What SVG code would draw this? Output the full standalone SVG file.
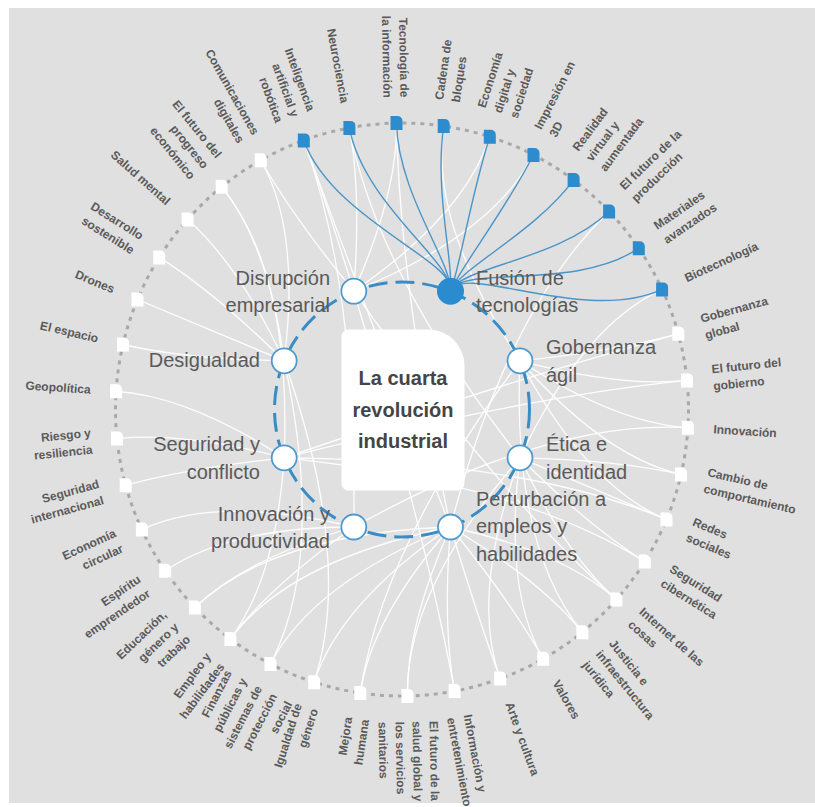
<svg xmlns="http://www.w3.org/2000/svg" xmlns:xlink="http://www.w3.org/1999/xlink" width="815" height="807" viewBox="0 0 815 807">
<style>
.wl{fill:none;stroke:#ffffff;stroke-width:1.3;opacity:0.95}
.bl{fill:none;stroke:#4b95c8;stroke-width:1.4}
.ring{fill:none;stroke:#a8a8a8;stroke-width:3;stroke-dasharray:4 5}
.iring{fill:none;stroke:#3a8cc4;stroke-width:3;stroke-dasharray:19 8}
.ol{font-family:"Liberation Sans",Arial,sans-serif;font-weight:bold;font-size:12px;fill:#5a5a5a}
.s{text-anchor:start}
.e{text-anchor:end}
.il{font-family:"Liberation Sans",Arial,sans-serif;font-size:20px;fill:#5a5a5a}
.ct{font-family:"Liberation Sans",Arial,sans-serif;font-weight:bold;font-size:20px;fill:#454545;text-anchor:middle}
.wsq{fill:#ffffff}
.bsq{fill:#2d8ccd}
.inode{fill:#ffffff;stroke:#4c9ace;stroke-width:1.8}
</style>
<defs>
<path id="sq" d="M-6,-7 h7 a5,5 0 0 1 5,5 v9 h-12 z"/>
</defs>
<rect x="0" y="0" width="815" height="807" fill="#ffffff"/>
<rect x="9" y="8" width="806" height="795" fill="#e0e0e0"/>

<circle class="ring" cx="402" cy="409.5" r="286.5"/>

<g id="connectors">
<g id="white-links">
<path class="wl" d="M396.5,123.1 Q397.8,192.5 353.8,291.2"/>
<path class="wl" d="M489.8,136.8 Q464.6,215.1 353.8,291.2"/>
<path class="wl" d="M533.5,155 Q492.1,235.1 353.8,291.2"/>
<path class="wl" d="M260.8,160.2 Q292.5,216.2 353.8,291.2"/>
<path class="wl" d="M303.8,140.4 Q325.6,200.1 353.8,291.2"/>
<path class="wl" d="M349.4,127.9 Q361.4,192.2 353.8,291.2"/>
<path class="wl" d="M616.4,599.5 Q495.1,492.1 353.8,291.2"/>
<path class="wl" d="M454.6,691.1 Q424.3,528.9 353.8,291.2"/>
<path class="wl" d="M443.7,126.1 Q429.3,223.7 520,360.8"/>
<path class="wl" d="M678.3,333.8 Q616.4,350.8 520,360.8"/>
<path class="wl" d="M687,380.4 Q620.1,387.2 520,360.8"/>
<path class="wl" d="M687.9,427.7 Q615.7,423.1 520,360.8"/>
<path class="wl" d="M681,474.5 Q604.3,456.6 520,360.8"/>
<path class="wl" d="M666.5,519.5 Q586.7,486.3 520,360.8"/>
<path class="wl" d="M582.3,632.2 Q512.2,545.6 520,360.8"/>
<path class="wl" d="M360.3,692.9 Q381.8,547.1 520,360.8"/>
<path class="wl" d="M662.1,289.4 Q582.1,326.3 520,457.8"/>
<path class="wl" d="M681,474.5 Q617.9,459.8 520,457.8"/>
<path class="wl" d="M666.5,519.5 Q607.8,495.1 520,457.8"/>
<path class="wl" d="M644.8,561.6 Q589.8,527.2 520,457.8"/>
<path class="wl" d="M616.4,599.5 Q565.1,554 520,457.8"/>
<path class="wl" d="M543.2,658.8 Q503.3,588.4 520,457.8"/>
<path class="wl" d="M500.2,678.6 Q469.8,595.3 520,457.8"/>
<path class="wl" d="M407.5,695.9 Q405.5,590.6 520,457.8"/>
<path class="wl" d="M349.4,127.9 Q376.7,274 520,457.8"/>
<path class="wl" d="M396.5,123.1 Q399.6,286.1 450.5,527"/>
<path class="wl" d="M609.1,211.5 Q507.1,309.1 450.5,527"/>
<path class="wl" d="M616.4,599.5 Q562.2,551.5 450.5,527"/>
<path class="wl" d="M582.3,632.2 Q539.9,579.8 450.5,527"/>
<path class="wl" d="M543.2,658.8 Q511.5,602.8 450.5,527"/>
<path class="wl" d="M500.2,678.6 Q478.3,618.7 450.5,527"/>
<path class="wl" d="M454.6,691.1 Q442.5,626.5 450.5,527"/>
<path class="wl" d="M407.5,695.9 Q406.2,626.2 450.5,527"/>
<path class="wl" d="M360.3,692.9 Q371.3,618.2 450.5,527"/>
<path class="wl" d="M314.2,682.2 Q339.5,603.6 450.5,527"/>
<path class="wl" d="M270.5,664 Q312,583.6 450.5,527"/>
<path class="wl" d="M230.4,638.9 Q289.6,559.8 450.5,527"/>
<path class="wl" d="M194.9,607.5 Q272.4,533.4 450.5,527"/>
<path class="wl" d="M303.8,140.4 Q360.5,295.8 450.5,527"/>
<path class="wl" d="M687.9,427.7 Q548.8,418.9 353.8,527"/>
<path class="wl" d="M230.4,638.9 Q270.3,585.6 353.8,527"/>
<path class="wl" d="M194.9,607.5 Q246.4,558.3 353.8,527"/>
<path class="wl" d="M165.2,570.8 Q229.2,527.2 353.8,527"/>
<path class="wl" d="M141.9,529.6 Q218.9,494.1 353.8,527"/>
<path class="wl" d="M303.8,140.4 Q357.2,286.9 353.8,527"/>
<path class="wl" d="M678.3,333.8 Q519,377.4 284.2,457.8"/>
<path class="wl" d="M687,380.4 Q523.8,397.1 284.2,457.8"/>
<path class="wl" d="M666.5,519.5 Q523.5,460 284.2,457.8"/>
<path class="wl" d="M644.8,561.6 Q517.6,481.9 284.2,457.8"/>
<path class="wl" d="M230.4,638.9 Q275.7,578.4 284.2,457.8"/>
<path class="wl" d="M125.7,485.2 Q187.8,468.2 284.2,457.8"/>
<path class="wl" d="M117,438.6 Q184,431.8 284.2,457.8"/>
<path class="wl" d="M116.1,391.3 Q188.3,395.9 284.2,457.8"/>
<path class="wl" d="M221.7,186.8 Q291.7,273.2 284.2,457.8"/>
<path class="wl" d="M314.2,682.2 Q353.8,559.3 284.2,360.8"/>
<path class="wl" d="M270.5,664 Q326.2,556.1 284.2,360.8"/>
<path class="wl" d="M123,344.5 Q186.1,359.2 284.2,360.8"/>
<path class="wl" d="M137.5,299.5 Q196.2,323.9 284.2,360.8"/>
<path class="wl" d="M159.2,257.4 Q214.2,291.8 284.2,360.8"/>
<path class="wl" d="M187.6,219.5 Q238.9,264.9 284.2,360.8"/>
<path class="wl" d="M221.7,186.8 Q268.3,244.3 284.2,360.8"/>
<path class="wl" d="M260.8,160.2 Q300.6,230.5 284.2,360.8"/>
</g>
<g id="blue-links">
<path class="bl" d="M396.5,123.1 C397.9,193.7 452,262 450.5,291.2"/>
<path class="bl" d="M443.7,126.1 C434.1,191.5 454,265 450.5,291.2"/>
<path class="bl" d="M489.8,136.8 C470.3,197.5 459.6,269.1 450.5,291.2"/>
<path class="bl" d="M533.5,155 C504.2,211.7 459.6,269.1 450.5,291.2"/>
<path class="bl" d="M573.6,180.1 C533.9,233.2 459.9,268.2 450.5,291.2"/>
<path class="bl" d="M609.1,211.5 C557.8,260.6 460.6,266.6 450.5,291.2"/>
<path class="bl" d="M638.8,248.2 C575,291.7 461.5,264.4 450.5,291.2"/>
<path class="bl" d="M662.1,289.4 C585.3,324.9 462.5,261.8 450.5,291.2"/>
<path class="bl" d="M303.8,140.4 C332.7,219.5 458,262 450.5,291.2"/>
<path class="bl" d="M349.4,127.9 C363.5,203.4 454,263 450.5,291.2"/>
</g>
</g>

<circle class="iring" cx="402" cy="409.5" r="127.5"/>

<g id="center">
<path d="M348.5,329.5 H428.5 A36,36 0 0 1 464.5,365.5 V483.5 A7,7 0 0 1 457.5,490.5 H348.5 A7,7 0 0 1 341.5,483.5 V336.5 A7,7 0 0 1 348.5,329.5 Z" fill="#ffffff"/>
<text class="ct" x="403" y="385">La cuarta</text>
<text class="ct" x="403" y="417">revolución</text>
<text class="ct" x="403" y="448">industrial</text>
</g>

<g id="inner-nodes">
<g id="n-disrupcion"><circle class="inode" cx="353.8" cy="291.2" r="12.5"/><text class="il e" x="330" y="284.5">Disrupción</text><text class="il e" x="330" y="312">empresarial</text></g>
<g id="n-fusion"><circle cx="450.5" cy="291.2" r="13.5" fill="#2a8ccf"/><text class="il s" x="476" y="284.5">Fusión de</text><text class="il s" x="476" y="312">tecnologías</text></g>
<g id="n-gobernanza"><circle class="inode" cx="520" cy="360.8" r="12.5"/><text class="il s" x="546" y="353.5">Gobernanza</text><text class="il s" x="546" y="381.5">ágil</text></g>
<g id="n-etica"><circle class="inode" cx="520" cy="457.8" r="12.5"/><text class="il s" x="546" y="451">Ética e</text><text class="il s" x="546" y="479">identidad</text></g>
<g id="n-perturbacion"><circle class="inode" cx="450.5" cy="527" r="12.5"/><text class="il s" x="476" y="505.5">Perturbación a</text><text class="il s" x="476" y="533">empleos y</text><text class="il s" x="476" y="561">habilidades</text></g>
<g id="n-innovacion"><circle class="inode" cx="353.8" cy="527" r="12.5"/><text class="il e" x="330" y="520.5">Innovación y</text><text class="il e" x="330" y="548">productividad</text></g>
<g id="n-seguridad"><circle class="inode" cx="284.2" cy="457.8" r="12.5"/><text class="il e" x="260" y="451">Seguridad y</text><text class="il e" x="260" y="479">conflicto</text></g>
<g id="n-desigualdad"><circle class="inode" cx="284.2" cy="360.8" r="12.5"/><text class="il e" x="260" y="366.5">Desigualdad</text></g>
</g>

<g id="outer-nodes">
<g id="o0"><use href="#sq" class="bsq" x="396.5" y="123.1"/><text class="ol e" transform="translate(396 97.6) rotate(88.9)"><tspan x="0" y="-4.5">Tecnología de</tspan><tspan x="0" y="12.5">la información</tspan></text></g>
<g id="o1"><use href="#sq" class="bsq" x="443.7" y="126.1"/><text class="ol s" transform="translate(447.4 100.8) rotate(-81.6)"><tspan x="0" y="-4.5">Cadena de</tspan><tspan x="0" y="12.5">bloques</tspan></text></g>
<g id="o2"><use href="#sq" class="bsq" x="489.8" y="136.8"/><text class="ol s" transform="translate(497.6 112.5) rotate(-72.15)"><tspan x="0" y="-13">Economía</tspan><tspan x="0" y="4">digital y</tspan><tspan x="0" y="21">sociedad</tspan></text></g>
<g id="o3"><use href="#sq" class="bsq" x="533.5" y="155"/><text class="ol s" transform="translate(545.2 132.3) rotate(-62.68)"><tspan x="0" y="-4.5">Impresión en</tspan><tspan x="0" y="12.5">3D</tspan></text></g>
<g id="o4"><use href="#sq" class="bsq" x="573.6" y="180.1"/><text class="ol s" transform="translate(588.9 159.7) rotate(-53.2)"><tspan x="0" y="-13">Realidad</tspan><tspan x="0" y="4">virtual y</tspan><tspan x="0" y="21">aumentada</tspan></text></g>
<g id="o5"><use href="#sq" class="bsq" x="609.1" y="211.5"/><text class="ol s" transform="translate(627.5 193.8) rotate(-43.73)"><tspan x="0" y="-4.5">El futuro de la</tspan><tspan x="0" y="12.5">producción</tspan></text></g>
<g id="o6"><use href="#sq" class="bsq" x="638.8" y="248.2"/><text class="ol s" transform="translate(659.9 233.8) rotate(-34.26)"><tspan x="0" y="-4.5">Materiales</tspan><tspan x="0" y="12.5">avanzados</tspan></text></g>
<g id="o7"><use href="#sq" class="bsq" x="662.1" y="289.4"/><text class="ol s" transform="translate(685.3 278.7) rotate(-24.78)"><tspan x="0" y="4">Biotecnología</tspan></text></g>
<g id="o8"><use href="#sq" class="wsq" x="678.3" y="333.8"/><text class="ol s" transform="translate(702.9 327.1) rotate(-15.31)"><tspan x="0" y="-4.5">Gobernanza</tspan><tspan x="0" y="12.5">global</tspan></text></g>
<g id="o9"><use href="#sq" class="wsq" x="687" y="380.4"/><text class="ol s" transform="translate(712.4 377.8) rotate(-5.84)"><tspan x="0" y="-4.5">El futuro del</tspan><tspan x="0" y="12.5">gobierno</tspan></text></g>
<g id="o10"><use href="#sq" class="wsq" x="687.9" y="427.7"/><text class="ol s" transform="translate(713.4 429.3) rotate(3.64)"><tspan x="0" y="4">Innovación</tspan></text></g>
<g id="o11"><use href="#sq" class="wsq" x="681" y="474.5"/><text class="ol s" transform="translate(705.9 480.3) rotate(13.11)"><tspan x="0" y="-4.5">Cambio de</tspan><tspan x="0" y="12.5">comportamiento</tspan></text></g>
<g id="o12"><use href="#sq" class="wsq" x="666.5" y="519.5"/><text class="ol s" transform="translate(690.1 529.3) rotate(22.58)"><tspan x="0" y="-4.5">Redes</tspan><tspan x="0" y="12.5">sociales</tspan></text></g>
<g id="o13"><use href="#sq" class="wsq" x="644.8" y="561.6"/><text class="ol s" transform="translate(666.4 575.1) rotate(32.06)"><tspan x="0" y="-4.5">Seguridad</tspan><tspan x="0" y="12.5">cibernética</tspan></text></g>
<g id="o14"><use href="#sq" class="wsq" x="616.4" y="599.5"/><text class="ol s" transform="translate(635.5 616.4) rotate(41.53)"><tspan x="0" y="-4.5">Internet de las</tspan><tspan x="0" y="12.5">cosas</tspan></text></g>
<g id="o15"><use href="#sq" class="wsq" x="582.3" y="632.2"/><text class="ol s" transform="translate(598.3 652) rotate(51.01)"><tspan x="0" y="-13">Justicia e</tspan><tspan x="0" y="4">infraestructura</tspan><tspan x="0" y="21">jurídica</tspan></text></g>
<g id="o16"><use href="#sq" class="wsq" x="543.2" y="658.8"/><text class="ol s" transform="translate(555.7 681) rotate(60.48)"><tspan x="0" y="4">Valores</tspan></text></g>
<g id="o17"><use href="#sq" class="wsq" x="500.2" y="678.6"/><text class="ol s" transform="translate(509 702.6) rotate(69.95)"><tspan x="0" y="4">Arte y cultura</tspan></text></g>
<g id="o18"><use href="#sq" class="wsq" x="454.6" y="691.1"/><text class="ol s" transform="translate(459.3 716.2) rotate(79.43)"><tspan x="0" y="-4.5">Información y</tspan><tspan x="0" y="12.5">entretenimiento</tspan></text></g>
<g id="o19"><use href="#sq" class="wsq" x="407.5" y="695.9"/><text class="ol s" transform="translate(408 721.4) rotate(88.9)"><tspan x="0" y="-21.5">El futuro de la</tspan><tspan x="0" y="-4.5">salud global y</tspan><tspan x="0" y="12.5">los servicios</tspan><tspan x="0" y="29.5">sanitarios</tspan></text></g>
<g id="o20"><use href="#sq" class="wsq" x="360.3" y="692.9"/><text class="ol e" transform="translate(356.6 718.2) rotate(-81.63)"><tspan x="0" y="-4.5">Mejora</tspan><tspan x="0" y="12.5">humana</tspan></text></g>
<g id="o21"><use href="#sq" class="wsq" x="314.2" y="682.2"/><text class="ol e" transform="translate(306.4 706.5) rotate(-72.15)"><tspan x="0" y="-4.5">Igualdad de</tspan><tspan x="0" y="12.5">género</tspan></text></g>
<g id="o22"><use href="#sq" class="wsq" x="270.5" y="664"/><text class="ol e" transform="translate(258.8 686.7) rotate(-62.68)"><tspan x="0" y="-30">Finanzas</tspan><tspan x="0" y="-13">públicas y</tspan><tspan x="0" y="4">sistemas de</tspan><tspan x="0" y="21">protección</tspan><tspan x="0" y="38">social</tspan></text></g>
<g id="o23"><use href="#sq" class="wsq" x="230.4" y="638.9"/><text class="ol e" transform="translate(215.1 659.3) rotate(-53.2)"><tspan x="0" y="-4.5">Empleo y</tspan><tspan x="0" y="12.5">habilidades</tspan></text></g>
<g id="o24"><use href="#sq" class="wsq" x="194.9" y="607.5"/><text class="ol e" transform="translate(176.5 625.2) rotate(-43.73)"><tspan x="0" y="-13">Educación,</tspan><tspan x="0" y="4">género y</tspan><tspan x="0" y="21">trabajo</tspan></text></g>
<g id="o25"><use href="#sq" class="wsq" x="165.2" y="570.8"/><text class="ol e" transform="translate(144.1 585.2) rotate(-34.26)"><tspan x="0" y="-4.5">Espíritu</tspan><tspan x="0" y="12.5">emprendedor</tspan></text></g>
<g id="o26"><use href="#sq" class="wsq" x="141.9" y="529.6"/><text class="ol e" transform="translate(118.7 540.3) rotate(-24.78)"><tspan x="0" y="-4.5">Economía</tspan><tspan x="0" y="12.5">circular</tspan></text></g>
<g id="o27"><use href="#sq" class="wsq" x="125.7" y="485.2"/><text class="ol e" transform="translate(101.1 491.9) rotate(-15.31)"><tspan x="0" y="-4.5">Seguridad</tspan><tspan x="0" y="12.5">internacional</tspan></text></g>
<g id="o28"><use href="#sq" class="wsq" x="117" y="438.6"/><text class="ol e" transform="translate(91.6 441.2) rotate(-5.84)"><tspan x="0" y="-4.5">Riesgo y</tspan><tspan x="0" y="12.5">resiliencia</tspan></text></g>
<g id="o29"><use href="#sq" class="wsq" x="116.1" y="391.3"/><text class="ol e" transform="translate(90.6 389.7) rotate(3.64)"><tspan x="0" y="4">Geopolítica</tspan></text></g>
<g id="o30"><use href="#sq" class="wsq" x="123" y="344.5"/><text class="ol e" transform="translate(98.1 338.7) rotate(13.11)"><tspan x="0" y="4">El espacio</tspan></text></g>
<g id="o31"><use href="#sq" class="wsq" x="137.5" y="299.5"/><text class="ol e" transform="translate(113.9 289.7) rotate(22.58)"><tspan x="0" y="4">Drones</tspan></text></g>
<g id="o32"><use href="#sq" class="wsq" x="159.2" y="257.4"/><text class="ol e" transform="translate(137.6 243.9) rotate(32.06)"><tspan x="0" y="-4.5">Desarrollo</tspan><tspan x="0" y="12.5">sostenible</tspan></text></g>
<g id="o33"><use href="#sq" class="wsq" x="187.6" y="219.5"/><text class="ol e" transform="translate(168.5 202.6) rotate(41.53)"><tspan x="0" y="4">Salud mental</tspan></text></g>
<g id="o34"><use href="#sq" class="wsq" x="221.7" y="186.8"/><text class="ol e" transform="translate(205.7 167) rotate(51.01)"><tspan x="0" y="-13">El futuro del</tspan><tspan x="0" y="4">progreso</tspan><tspan x="0" y="21">económico</tspan></text></g>
<g id="o35"><use href="#sq" class="wsq" x="260.8" y="160.2"/><text class="ol e" transform="translate(248.3 138) rotate(60.48)"><tspan x="0" y="-4.5">Comunicaciones</tspan><tspan x="0" y="12.5">digitales</tspan></text></g>
<g id="o36"><use href="#sq" class="bsq" x="303.8" y="140.4"/><text class="ol e" transform="translate(295 116.4) rotate(69.95)"><tspan x="0" y="-13">Inteligencia</tspan><tspan x="0" y="4">artificial y</tspan><tspan x="0" y="21">robótica</tspan></text></g>
<g id="o37"><use href="#sq" class="bsq" x="349.4" y="127.9"/><text class="ol e" transform="translate(344.7 102.8) rotate(79.43)"><tspan x="0" y="4">Neurociencia</tspan></text></g>
</g>
</svg>
